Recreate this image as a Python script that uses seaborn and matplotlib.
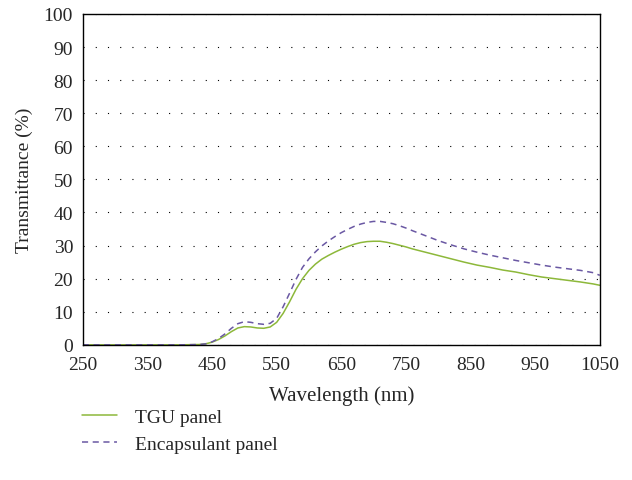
import numpy as np
import pandas as pd
import matplotlib
matplotlib.use("Agg")
import matplotlib.pyplot as plt
import seaborn as sns

# wavelength (nm) and transmittance (%)
wavelength = [250, 300, 350, 400, 430, 440, 450, 460, 470, 480, 490, 500, 510, 520, 530,
              540, 550, 560, 570, 580, 590, 600, 610, 620, 630, 640, 650, 660, 670,
              680, 690, 700, 710, 720, 730, 740, 750, 760, 780, 800, 820, 840, 860,
              880, 900, 920, 940, 960, 980, 1000, 1020, 1040, 1050]

tgu = [0, 0, 0, 0, 0.1, 0.3, 0.8, 1.6, 2.7, 4.0, 5.1, 5.5, 5.4, 5.1, 5.0,
       5.4, 6.8, 9.5, 13.0, 16.8, 20.0, 22.5, 24.4, 25.9, 27.0, 28.0, 28.9, 29.7, 30.4,
       30.9, 31.2, 31.3, 31.3, 31.0, 30.6, 30.1, 29.6, 29.0, 28.0, 27.0, 26.0, 25.0, 24.1,
       23.4, 22.6, 22.0, 21.2, 20.5, 20.0, 19.5, 19.0, 18.4, 18.0]

encapsulant = [0, 0, 0, 0, 0.1, 0.3, 0.9, 1.9, 3.3, 5.0, 6.4, 7.0, 6.8, 6.4, 6.2,
               6.5, 8.0, 11.5, 15.6, 19.8, 23.4, 26.0, 28.1, 29.9, 31.4, 32.7, 33.9, 34.9, 35.8,
               36.5, 37.0, 37.3, 37.3, 37.0, 36.6, 36.0, 35.3, 34.5, 33.0, 31.5, 30.2, 29.0, 28.0,
               27.1, 26.3, 25.5, 24.8, 24.1, 23.5, 23.0, 22.5, 21.8, 21.0]

series = ["TGU panel", "Encapsulant panel"]

df = pd.concat([
    pd.DataFrame({"Wavelength": wavelength, "Transmittance": tgu, "Panel": series[0]}),
    pd.DataFrame({"Wavelength": wavelength, "Transmittance": encapsulant, "Panel": series[1]}),
])

sns.set_style("white")
plt.rcParams["font.family"] = ["Liberation Serif", "DejaVu Serif"]

fig = plt.figure(figsize=(6.32, 4.81), dpi=100)
ax = fig.add_axes([0.131, 0.281, 0.818, 0.688])

sns.lineplot(data=df, x="Wavelength", y="Transmittance", hue="Panel", style="Panel",
             palette={"TGU panel": "#8db83a", "Encapsulant panel": "#6a58a3"},
             dashes={"TGU panel": "", "Encapsulant panel": (4, 3)},
             linewidth=1.1, ax=ax)

ax.set_xlim(250, 1050)
ax.set_ylim(0, 100)
ax.set_xticks(range(250, 1051, 100))
ax.set_yticks(range(0, 101, 10))
ax.tick_params(axis="x", labelsize=14, length=0, pad=8)
ax.tick_params(axis="y", labelsize=14, length=0, pad=7)
ax.yaxis.grid(True, linestyle=(0, (1, 10)), color="black", linewidth=0.8)
for s in ax.spines.values():
    s.set_color("black")
    s.set_linewidth(1.0)
ax.set_xlabel("Wavelength (nm)", fontsize=15, labelpad=9)
ax.set_ylabel("Transmittance (%)", fontsize=14, labelpad=8)

leg = ax.legend(loc="upper left", bbox_to_anchor=(-0.035, -0.14), frameon=False,
                fontsize=14, handlelength=1.8, labelspacing=0.45, handletextpad=0.9)

fig.savefig("out.png", dpi=100)
